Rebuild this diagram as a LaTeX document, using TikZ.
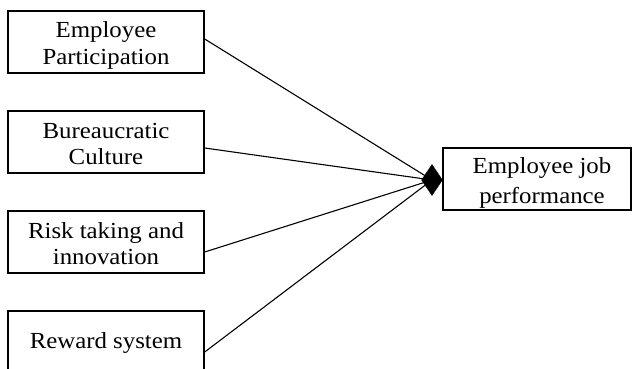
\documentclass[tikz,border=0pt]{standalone}
\usepackage{fontspec}
\setmainfont{Liberation Serif}[FakeStretch=1.08]
\usetikzlibrary{shapes.geometric}
\begin{document}
\begin{tikzpicture}[x=1pt,y=-1pt,
  box/.style={draw, line width=1.4pt, minimum width=196pt, minimum height=62pt, inner sep=0pt},
  lbl/.style={anchor=base, inner sep=0pt, font=\fontsize{23}{26}\selectfont},
  link/.style={line width=1.1pt}]
\clip (0,0) rectangle (632,369);

% factor boxes
\node[box] (b1) at (106,42) {};
\node[box] (b2) at (106,142) {};
\node[box] (b3) at (106,242) {};
\node[box, minimum height=69pt] (b4) at (106,345.5) {};
% outcome box
\node[box, minimum width=188pt] (out) at (537,179) {};

% labels
\node[lbl] (t1a) at (106,38) {Employee};
\node[lbl] (t1b) at (106,64.5) {Participation};
\node[lbl] (t2a) at (106,138) {Bureaucratic};
\node[lbl] (t2b) at (106,164.5) {Culture};
\node[lbl] (t3a) at (106,238) {Risk taking and};
\node[lbl] (t3b) at (106,264.5) {innovation};
\node[lbl] (t4) at (106,348) {Reward system};
\node[lbl] (toa) at (542,173) {Employee job};
\node[lbl] (tob) at (542,203) {performance};

% converging links
\coordinate (hub) at (432,180);
\draw[link] ([yshift=3pt]b1.east) -- (hub);
\draw[link] ([yshift=-6pt]b2.east) -- (hub);
\draw[link] ([yshift=-10pt]b3.east) -- (hub);
\draw[link] ([yshift=-6.5pt]b4.east) -- (hub);

% diamond head
\node[diamond, fill=black, draw=black, inner sep=0pt, minimum width=21pt, minimum height=31pt] (tip) at (hub) {};
\end{tikzpicture}
\end{document}
